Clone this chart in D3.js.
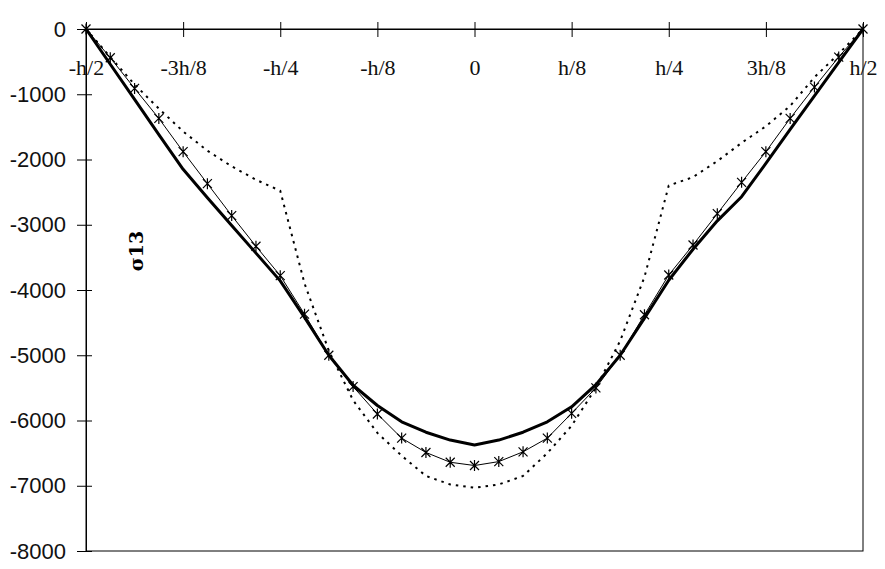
<!DOCTYPE html>
<html>
<head>
<meta charset="utf-8">
<script src="https://cdn.jsdelivr.net/npm/d3@7"></script>
<style>
  html, body { margin: 0; padding: 0; background: #fff; }
  svg { display: block; }
</style>
</head>
<body>
<script>
// Through-thickness positions, in units of h/32 (from -h/2 to h/2)
const zUnits = [-16, -15, -14, -13, -12, -11, -10, -9, -8, -7, -6, -5, -4, -3, -2, -1,
                0, 1, 2, 3, 4, 5, 6, 7, 8, 9, 10, 11, 12, 13, 14, 15, 16];

// Shear stress sigma13 profiles
const sigmaThick = [0, -540, -1080, -1620, -2150, -2585, -3010, -3435, -3860, -4420, -5000, -5460, -5770, -6020, -6180, -6300,
                    -6375, -6300, -6180, -6020, -5790, -5450, -5000, -4430, -3850, -3375, -2940, -2570, -2060, -1540, -1025, -510, 0];
const sigmaStar = [0, -440, -910, -1370, -1880, -2370, -2860, -3330, -3780, -4370, -5000, -5480, -5900, -6270, -6490, -6640,
                   -6690, -6630, -6480, -6270, -5890, -5500, -5000, -4380, -3770, -3310, -2830, -2350, -1880, -1370, -890, -430, 0];
const sigmaDotted = [0, -430, -850, -1220, -1570, -1865, -2105, -2310, -2480, -3900, -4930, -5690, -6190, -6540, -6850, -6980,
                     -7030, -6980, -6850, -6500, -6080, -5500, -4780, -3800, -2400, -2270, -2025, -1745, -1490, -1180, -740, -380, 0];

// Axis ticks
const xTickUnits = [-16, -12, -8, -4, 0, 4, 8, 12, 16];
const xTickLabels = ["-h/2", "-3h/8", "-h/4", "-h/8", "0", "h/8", "h/4", "3h/8", "h/2"];
const yTickValues = [0, -1000, -2000, -3000, -4000, -5000, -6000, -7000, -8000];

const W = 885, H = 569;
const plotLeft = 86, plotRight = 863, plotTop = 29, plotBottom = 551;

const svg = d3.select("body").append("svg")
  .attr("width", W).attr("height", H);

const x = d3.scaleLinear().domain([-16, 16]).range([plotLeft, plotRight]);
const y = d3.scaleLinear().domain([-8000, 0]).range([plotBottom, plotTop]);

// Plot frame
svg.append("rect")
  .attr("x", plotLeft).attr("y", plotTop)
  .attr("width", plotRight - plotLeft).attr("height", plotBottom - plotTop)
  .attr("fill", "none").attr("stroke", "#000").attr("stroke-width", 1);

// Y axis with crossing tick marks; plain hyphen for negative values
const yAxis = svg.append("g")
  .attr("transform", `translate(${plotLeft},0)`)
  .call(d3.axisLeft(y).tickValues(yTickValues).tickSize(9).tickFormat(d => String(d)));
yAxis.select(".domain").attr("stroke", "#000");
yAxis.selectAll(".tick line").attr("x1", 6).attr("stroke", "#000");
yAxis.selectAll(".tick text")
  .attr("x", -20)
  .attr("font-family", "'Liberation Sans', Arial, sans-serif")
  .attr("font-size", 22)
  .attr("fill", "#111");

// X axis along the zero line, labels below
const xAxis = svg.append("g")
  .attr("transform", `translate(0,${y(0)})`)
  .call(d3.axisBottom(x).tickValues(xTickUnits).tickSize(8)
    .tickFormat((d, i) => xTickLabels[i]));
xAxis.select(".domain").attr("stroke", "#000");
xAxis.selectAll(".tick line").attr("y1", -7).attr("stroke", "#000");
xAxis.selectAll(".tick text")
  .attr("y", 46).attr("dy", 0)
  .attr("font-family", "'Liberation Serif', 'Times New Roman', serif")
  .attr("font-size", 22)
  .attr("fill", "#111");

// Series lines
const lineGen = vals => d3.line()
  .x((d, i) => x(zUnits[i]))
  .y(d => y(d))(vals);

svg.append("path")
  .attr("d", lineGen(sigmaDotted))
  .attr("fill", "none").attr("stroke", "#000")
  .attr("stroke-width", 2).attr("stroke-dasharray", "2.5,5");

svg.append("path")
  .attr("d", lineGen(sigmaStar))
  .attr("fill", "none").attr("stroke", "#000")
  .attr("stroke-width", 1);

svg.append("path")
  .attr("d", lineGen(sigmaThick))
  .attr("fill", "none").attr("stroke", "#000")
  .attr("stroke-width", 3).attr("stroke-linejoin", "round");

// Asterisk markers on the thin series
const star = "M0,-5.5V5.5M-4.5,-4.5L4.5,4.5M4.5,-4.5L-4.5,4.5";
svg.append("g").selectAll("path")
  .data(sigmaStar)
  .join("path")
  .attr("transform", (d, i) => `translate(${x(zUnits[i])},${y(d)})`)
  .attr("d", star)
  .attr("fill", "none").attr("stroke", "#000").attr("stroke-width", 1.2);

// Vertical series label
svg.append("text")
  .attr("transform", "translate(143,251) rotate(-90)")
  .attr("text-anchor", "middle")
  .attr("font-family", "'DejaVu Serif', serif")
  .attr("font-weight", "bold")
  .attr("font-size", 19)
  .attr("fill", "#000")
  .text("σ13");
</script>
</body>
</html>
